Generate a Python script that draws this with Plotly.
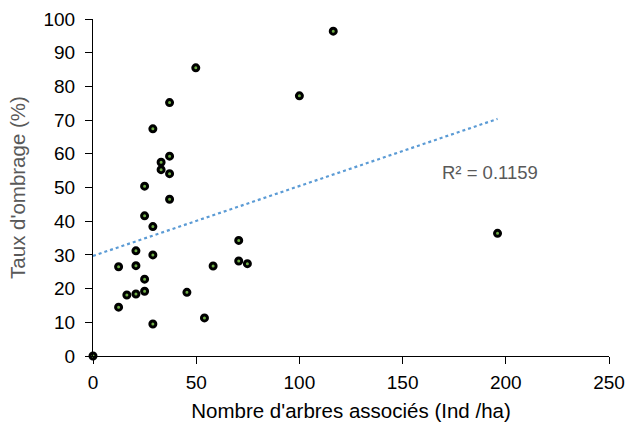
import numpy as np
import plotly.graph_objects as go

# Tree density (Ind/ha) and shade rate (%) for each plot
arbres = [0, 12.4, 12.4, 16.4, 20.8, 20.8, 20.8, 25.0, 25.0, 25.0, 25.0,
          29.0, 29.0, 29.0, 29.0, 33.0, 33.0, 37.1, 37.1, 37.1, 37.1,
          45.5, 49.8, 54.0, 58.2, 70.6, 70.6, 74.8, 100.0, 116.4, 196.0]
ombrage = [0, 26.5, 14.5, 18.1, 18.4, 26.8, 31.2, 19.2, 22.8, 41.6, 50.4,
           9.5, 30.0, 38.4, 67.4, 55.3, 57.5, 54.1, 46.5, 59.3, 75.2,
           18.9, 85.5, 11.3, 26.7, 34.3, 28.2, 27.4, 77.2, 96.4, 36.4]
r2_label = "R² = 0.1159"

x_ticks = [0, 50, 100, 150, 200, 250]
y_ticks = [0, 10, 20, 30, 40, 50, 60, 70, 80, 90, 100]

# Linear trend line fitted on the points
slope, intercept = np.polyfit(arbres, ombrage, 1)
trend_x = [0, max(arbres)]
trend_y = [intercept + slope * v for v in trend_x]

font_family = "Liberation Sans, Arial, sans-serif"

fig = go.Figure()
fig.add_trace(go.Scatter(
    x=trend_x, y=trend_y, mode="lines",
    line=dict(color="#5B9BD5", width=2.2, dash="dot"),
    hoverinfo="skip", showlegend=False,
))
fig.add_trace(go.Scatter(
    x=arbres, y=ombrage, mode="markers",
    marker=dict(size=6, color="#70AD47", line=dict(color="#000000", width=3)),
    cliponaxis=False, showlegend=False,
))

fig.add_annotation(
    x=168, y=54.6, xref="x", yref="y", text=r2_label, showarrow=False,
    xanchor="left", yanchor="middle",
    font=dict(family=font_family, size=18.5, color="#595959"),
)

fig.update_layout(
    width=637, height=423,
    margin=dict(l=93, r=28, t=19, b=67),
    paper_bgcolor="white", plot_bgcolor="white",
    font=dict(family=font_family, size=19, color="#000000"),
    xaxis=dict(
        range=[0, 250], tickvals=x_ticks, showgrid=False, zeroline=False,
        showline=True, linecolor="#000000", linewidth=1,
        ticks="outside", ticklen=7, tickcolor="#000000", tickwidth=1,
        ticklabelstandoff=2, automargin=False,
        title=dict(text="Nombre d'arbres associés (Ind /ha)",
                   font=dict(size=20.5, color="#000000"), standoff=11),
    ),
    yaxis=dict(
        range=[0, 100], tickvals=y_ticks, showgrid=False, zeroline=False,
        showline=True, linecolor="#000000", linewidth=1,
        ticks="outside", ticklen=7, tickcolor="#000000", tickwidth=1,
        ticklabelstandoff=6, automargin=False,
        title=dict(text="Taux d'ombrage (%)",
                   font=dict(size=20.5, color="#595959"), standoff=12),
    ),
)

fig.write_html("out.html")
